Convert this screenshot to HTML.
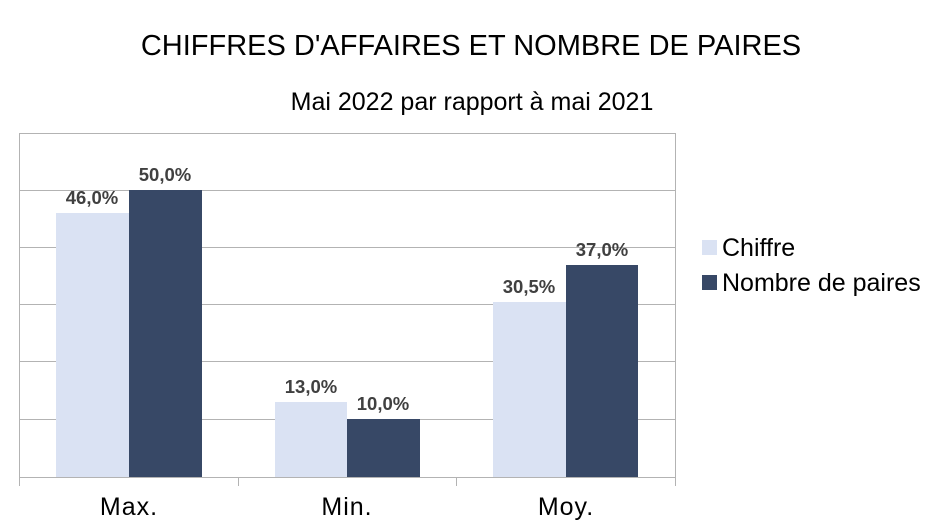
<!DOCTYPE html>
<html><head><meta charset="utf-8"><style>body{margin:0;background:#fff}svg{display:block}</style></head>
<body>
<svg width="943" height="530" xmlns="http://www.w3.org/2000/svg" font-family="Liberation Sans, sans-serif">
<rect width="943" height="530" fill="#fff"/>
<text x="471" y="55" text-anchor="middle" font-size="29" fill="#000">CHIFFRES D'AFFAIRES ET NOMBRE DE PAIRES</text>
<text x="472" y="110" text-anchor="middle" font-size="25" fill="#000">Mai 2022 par rapport à mai 2021</text>
<g stroke="#b3b3b3" stroke-width="1">
<line x1="19.5" y1="133.5" x2="675.5" y2="133.5"/>
<line x1="19.5" y1="190.5" x2="675.5" y2="190.5"/>
<line x1="19.5" y1="247.5" x2="675.5" y2="247.5"/>
<line x1="19.5" y1="304.5" x2="675.5" y2="304.5"/>
<line x1="19.5" y1="361.5" x2="675.5" y2="361.5"/>
<line x1="19.5" y1="419.5" x2="675.5" y2="419.5"/>
<line x1="19.5" y1="133" x2="19.5" y2="486"/>
<line x1="675.5" y1="133" x2="675.5" y2="486"/>
<line x1="238.5" y1="477" x2="238.5" y2="486"/>
<line x1="456.5" y1="477" x2="456.5" y2="486"/>
</g>
<g>
<rect x="56" y="213" width="73" height="264" fill="#dae2f3"/>
<rect x="129" y="190" width="73" height="287" fill="#374866"/>
<rect x="275" y="402" width="72" height="75" fill="#dae2f3"/>
<rect x="347" y="419" width="73" height="58" fill="#374866"/>
<rect x="493" y="302" width="73" height="175" fill="#dae2f3"/>
<rect x="566" y="265" width="72" height="212" fill="#374866"/>
</g>
<line x1="19" y1="477.5" x2="676" y2="477.5" stroke="#b3b3b3"/>
<g font-size="18.5" font-weight="bold" fill="#404040" text-anchor="middle">
<text x="92" y="204">46,0%</text>
<text x="165" y="181">50,0%</text>
<text x="311" y="393">13,0%</text>
<text x="383" y="410">10,0%</text>
<text x="529" y="293">30,5%</text>
<text x="602" y="256">37,0%</text>
</g>
<g font-size="25" fill="#000" text-anchor="middle">
<text x="129" y="515" letter-spacing="1">Max.</text>
<text x="347" y="515" letter-spacing="1">Min.</text>
<text x="566" y="515" letter-spacing="1">Moy.</text>
</g>
<rect x="702" y="240" width="15" height="15" fill="#dae2f3"/>
<rect x="702" y="275" width="15" height="15" fill="#374866"/>
<g font-size="25" fill="#000">
<text x="722" y="256">Chiffre</text>
<text x="722" y="291">Nombre de paires</text>
</g>
</svg>
</body></html>
